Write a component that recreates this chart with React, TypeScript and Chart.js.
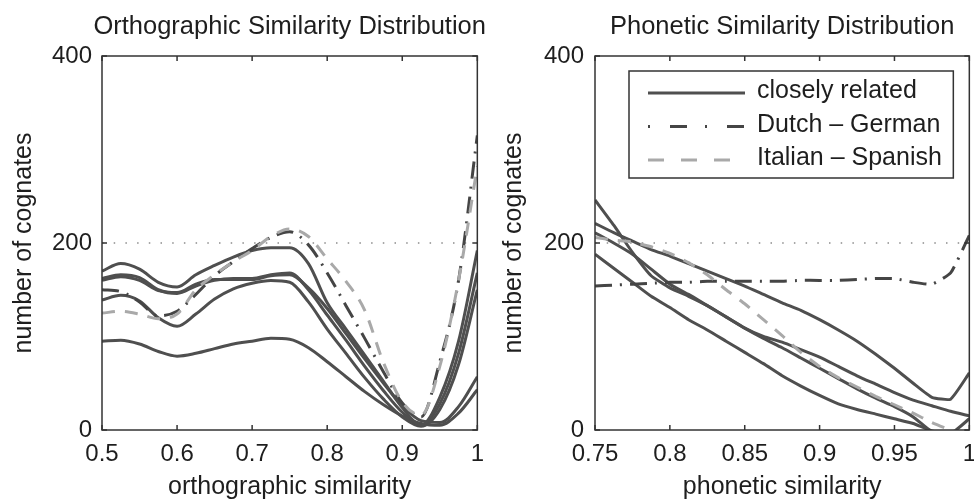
import React, { useEffect, useRef } from 'react';
import { Chart, registerables } from 'chart.js';

Chart.register(...registerables);

const FONT = '"Liberation Sans", Arial, Helvetica, sans-serif';

// ---------- Orthographic similarity (left) ----------
const orthoX = [0.5, 0.525, 0.55, 0.575, 0.6, 0.625, 0.65, 0.675, 0.7, 0.725, 0.75, 0.775, 0.8, 0.825, 0.85, 0.875, 0.9, 0.925, 0.95, 0.975, 1.0];
const orthoClose1 = [170, 178, 172, 158, 153, 166, 176, 185, 192, 195, 195, 178, 136, 108, 80, 52, 24, 5, 35, 95, 192];
const orthoClose2 = [162, 166, 163, 150, 146, 154, 160, 162, 162, 166, 168, 150, 123, 96, 68, 42, 19, 5, 28, 82, 168];
const orthoClose3 = [139, 144, 138, 120, 111, 124, 140, 151, 157, 160, 158, 137, 108, 82, 56, 33, 14, 4, 22, 70, 150];
const orthoClose4 = [95, 96, 92, 84, 79, 82, 87, 92, 95, 98, 97, 88, 73, 57, 41, 27, 15, 7, 5, 18, 43];
const orthoClose5 = [160, 164, 160, 149, 147, 156, 161, 161, 161, 165, 166, 152, 130, 103, 76, 50, 26, 10, 8, 25, 57];
const orthoDutchGerman = [150, 148, 137, 122, 127, 145, 165, 180, 194, 206, 212, 198, 168, 133, 98, 62, 29, 14, 73, 160, 315];
const orthoItalianSpanish = [125, 127, 124, 119, 124, 150, 166, 180, 192, 207, 215, 207, 183, 159, 128, 72, 30, 16, 68, 160, 282];

// ---------- Phonetic similarity (right) ----------
const phonX = [0.75, 0.7625, 0.775, 0.7875, 0.8, 0.8125, 0.825, 0.8375, 0.85, 0.8625, 0.875, 0.8875, 0.9, 0.9125, 0.925, 0.9375, 0.95, 0.9625, 0.975, 0.9875, 1.0];
const phonClose1 = [246, 219, 190, 165, 152, 143, 133, 121, 109, 100, 94, 86, 78, 68, 58, 49, 40, 32, 26, 20, 15];
const phonClose2 = [221, 211, 202, 193, 186, 178, 170, 162, 154, 145, 136, 128, 118, 107, 95, 81, 66, 50, 35, 33, 61];
const phonClose3 = [211, 200, 188, 172, 156, 145, 133, 121, 109, 98, 88, 77, 66, 55, 44, 34, 25, 14, -2, -10, -15];
const phonClose4 = [188, 173, 158, 143, 131, 118, 107, 95, 83, 71, 58, 47, 37, 28, 22, 17, 12, 7, -1, -4, 12];
const phonDutchGerman = [154, 155, 156, 157, 158, 158, 159, 159, 159, 159, 159, 160, 160, 160, 161, 162, 162, 158, 156, 168, 208];
const phonItalianSpanish = [206, 203, 201, 196, 189, 179, 166, 150, 135, 118, 101, 83, 68, 56, 46, 36, 27, 18, 8, 0, -5];

// ---------- Axes ----------
const orthoTicks = [0.5, 0.6, 0.7, 0.8, 0.9, 1];
const orthoTickLabels = ['0.5', '0.6', '0.7', '0.8', '0.9', '1'];
const phonTicks = [0.75, 0.8, 0.85, 0.9, 0.95, 1];
const phonTickLabels = ['0.75', '0.8', '0.85', '0.9', '0.95', '1'];
const yTicks = [0, 200, 400];
const yTickLabels = ['0', '200', '400'];
const refLevel = 200;

const seriesLabels = ['closely related', 'Dutch \u2013 German', 'Italian \u2013 Spanish'];

const SOLID_COLOR = '#4f4f4f';
const DG_COLOR = '#454545';
const IS_COLOR = '#a9a9a9';
const TEXT_COLOR = '#1e1e1e';

const pts = (xs: number[], ys: number[]) => xs.map((x, i) => ({ x, y: ys[i] }));

const framePlugin = {
  id: 'frame',
  afterDatasetsDraw(chart: any) {
    const { ctx, chartArea: a, scales } = chart;
    ctx.save();
    ctx.strokeStyle = '#333';
    ctx.lineWidth = 1.5;
    ctx.strokeRect(a.left, a.top, a.right - a.left, a.bottom - a.top);
    const tl = 5;
    ctx.beginPath();
    scales.x.ticks.forEach((t: any) => {
      const px = scales.x.getPixelForValue(t.value);
      ctx.moveTo(px, a.bottom);
      ctx.lineTo(px, a.bottom - tl);
      ctx.moveTo(px, a.top);
      ctx.lineTo(px, a.top + tl);
    });
    scales.y.ticks.forEach((t: any) => {
      const py = scales.y.getPixelForValue(t.value);
      ctx.moveTo(a.left, py);
      ctx.lineTo(a.left + tl, py);
      ctx.moveTo(a.right, py);
      ctx.lineTo(a.right - tl, py);
    });
    ctx.stroke();
    ctx.restore();
  },
};

// Title centred over the plot area, drawn without width compression
const plotTitlePlugin = {
  id: 'plotTitle',
  afterDraw(chart: any, _args: any, opts: any) {
    if (!opts || !opts.text) return;
    const { ctx, chartArea: a } = chart;
    ctx.save();
    ctx.fillStyle = TEXT_COLOR;
    ctx.font = `${opts.fontSize}px ${FONT}`;
    ctx.textAlign = 'center';
    ctx.textBaseline = 'middle';
    ctx.fillText(opts.text, (a.left + a.right) / 2, a.top - opts.gap);
    ctx.restore();
  },
};

const legendBoxPlugin = {
  id: 'legendBox',
  afterDraw(chart: any, _args: any, opts: any) {
    if (!opts || !opts.display) return;
    const { ctx, chartArea: a } = chart;
    const items = chart.data.datasets.filter((d: any) => d.legendDash);
    const left = a.left + opts.offsetLeft;
    const top = a.top + opts.offsetTop;
    const right = a.right - opts.offsetRight;
    const bottom = top + opts.height;
    ctx.save();
    ctx.fillStyle = '#fff';
    ctx.fillRect(left, top, right - left, bottom - top);
    ctx.strokeStyle = '#333';
    ctx.lineWidth = 1.5;
    ctx.strokeRect(left, top, right - left, bottom - top);
    items.forEach((d: any, i: number) => {
      const y = top + opts.firstRow + i * opts.rowHeight;
      ctx.beginPath();
      ctx.strokeStyle = d.borderColor;
      ctx.lineWidth = d.borderWidth;
      ctx.setLineDash(d.legendDash);
      ctx.moveTo(left + opts.lineStart, y);
      ctx.lineTo(left + opts.lineEnd, y);
      ctx.stroke();
      ctx.setLineDash([]);
      ctx.fillStyle = TEXT_COLOR;
      ctx.font = `${opts.fontSize}px ${FONT}`;
      ctx.textAlign = 'left';
      ctx.textBaseline = 'middle';
      ctx.fillText(d.label, left + opts.textStart, y - 1.5);
    });
    ctx.restore();
  },
};

function buildDatasets(xs: number[], closes: number[][], dg: number[], is: number[], xMin: number, xMax: number, tension: number, mono: boolean) {
  const common = {
    pointRadius: 0,
    pointHoverRadius: 0,
    fill: false,
    tension,
    cubicInterpolationMode: mono ? 'monotone' : 'default',
  };
  const sets: any[] = [];
  sets.push({
    label: 'ref',
    data: [{ x: xMin, y: refLevel }, { x: xMax, y: refLevel }],
    borderColor: '#8c8c8c',
    borderWidth: 1.5,
    borderDash: [1.5, 10.2],
    pointRadius: 0,
    tension: 0,
    order: 3,
  });
  closes.forEach((c, i) => {
    sets.push({
      ...common,
      label: i === 0 ? seriesLabels[0] : seriesLabels[0] + ' ' + (i + 1),
      data: pts(xs, c),
      borderColor: SOLID_COLOR,
      borderWidth: 3,
      order: 2,
      legendDash: i === 0 ? [] : undefined,
    });
  });
  sets.push({
    ...common,
    label: seriesLabels[1],
    data: pts(xs, dg),
    borderColor: DG_COLOR,
    borderWidth: 3,
    borderDash: [17, 8, 2, 8],
    order: 1,
    legendDash: [2, 20, 17, 18],
  });
  sets.push({
    ...common,
    label: seriesLabels[2],
    data: pts(xs, is),
    borderColor: IS_COLOR,
    borderWidth: 3,
    borderDash: [13, 10],
    order: 0,
    legendDash: [16, 17],
  });
  return sets;
}

function makeOptions(cfg: {
  title: string;
  xTitle: string;
  xMin: number;
  xMax: number;
  xTicks: number[];
  xLabels: string[];
  yWidth: number;
  yTitlePad: number;
  yTickPad: number;
  legend: boolean;
}) {
  return {
    responsive: false,
    maintainAspectRatio: false,
    animation: false,
    devicePixelRatio: 1,
    events: [],
    layout: { padding: { left: 0, right: 0, top: 56, bottom: 0 } },
    plugins: {
      legend: { display: false },
      tooltip: { enabled: false },
      title: { display: false },
      plotTitle: { text: cfg.title, fontSize: 25.5, gap: 28.8 },
      legendBox: {
        display: cfg.legend,
        offsetLeft: 34,
        offsetTop: 15,
        offsetRight: 16,
        height: 107,
        firstRow: 22,
        rowHeight: 33.5,
        lineStart: 19,
        lineEnd: 116,
        textStart: 128,
        fontSize: 25,
      },
    },
    scales: {
      x: {
        type: 'linear',
        min: cfg.xMin,
        max: cfg.xMax,
        grid: { display: false, drawTicks: false },
        border: { display: false },
        afterBuildTicks: (s: any) => {
          s.ticks = cfg.xTicks.map((v) => ({ value: v }));
        },
        afterFit: (s: any) => {
          s.height = 71;
        },
        ticks: {
          autoSkip: false,
          maxRotation: 0,
          minRotation: 0,
          padding: 10,
          color: TEXT_COLOR,
          font: { family: FONT, size: 24 },
          callback: (_v: any, i: number) => cfg.xLabels[i],
        },
        title: {
          display: true,
          text: cfg.xTitle,
          color: TEXT_COLOR,
          font: { family: FONT, size: 25 },
          padding: { top: 0, bottom: -1 },
        },
      },
      y: {
        type: 'linear',
        min: 0,
        max: 400,
        grid: { display: false, drawTicks: false },
        border: { display: false },
        afterBuildTicks: (s: any) => {
          s.ticks = yTicks.map((v) => ({ value: v }));
        },
        afterFit: (s: any) => {
          s.width = cfg.yWidth;
        },
        ticks: {
          autoSkip: false,
          padding: cfg.yTickPad,
          color: TEXT_COLOR,
          font: { family: FONT, size: 24 },
          callback: (_v: any, i: number) => yTickLabels[i],
        },
        title: {
          display: true,
          text: 'number of cognates',
          color: TEXT_COLOR,
          font: { family: FONT, size: 25 },
          padding: { top: cfg.yTitlePad, bottom: 0 },
        },
      },
    },
  } as any;
}

export default function App() {
  const leftRef = useRef<HTMLCanvasElement | null>(null);
  const rightRef = useRef<HTMLCanvasElement | null>(null);

  useEffect(() => {
    Chart.defaults.font.family = FONT;
    const left = new Chart(leftRef.current as HTMLCanvasElement, {
      type: 'line',
      data: {
        datasets: buildDatasets(
          orthoX,
          [orthoClose1, orthoClose2, orthoClose3, orthoClose4, orthoClose5],
          orthoDutchGerman,
          orthoItalianSpanish,
          0.5,
          1,
          0.4,
          true
        ),
      },
      options: makeOptions({
        title: 'Orthographic Similarity Distribution',
        xTitle: 'orthographic similarity',
        xMin: 0.5,
        xMax: 1,
        xTicks: orthoTicks,
        xLabels: orthoTickLabels,
        yWidth: 102,
        yTitlePad: 8.7,
        yTickPad: 10,
        legend: false,
      }),
      plugins: [framePlugin, plotTitlePlugin, legendBoxPlugin],
    } as any);
    const right = new Chart(rightRef.current as HTMLCanvasElement, {
      type: 'line',
      data: {
        datasets: buildDatasets(
          phonX,
          [phonClose1, phonClose2, phonClose3, phonClose4],
          phonDutchGerman,
          phonItalianSpanish,
          0.75,
          1,
          0.15,
          false
        ),
      },
      options: makeOptions({
        title: 'Phonetic Similarity Distribution',
        xTitle: 'phonetic similarity',
        xMin: 0.75,
        xMax: 1,
        xTicks: phonTicks,
        xLabels: phonTickLabels,
        yWidth: 108,
        yTitlePad: 12.6,
        yTickPad: 11,
        legend: true,
      }),
      plugins: [framePlugin, plotTitlePlugin, legendBoxPlugin],
    } as any);
    return () => {
      left.destroy();
      right.destroy();
    };
  }, []);

  return (
    <div
      style={{
        position: 'fixed',
        left: 0,
        top: 0,
        width: 974,
        height: 501,
        overflow: 'hidden',
        background: '#fff',
      }}
    >
      <canvas
        ref={leftRef}
        width={494}
        height={501}
        style={{ position: 'absolute', left: 0, top: 0, width: 494, height: 501 }}
      />
      <canvas
        ref={rightRef}
        width={499}
        height={501}
        style={{ position: 'absolute', left: 487, top: 0, width: 499, height: 501 }}
      />
    </div>
  );
}
